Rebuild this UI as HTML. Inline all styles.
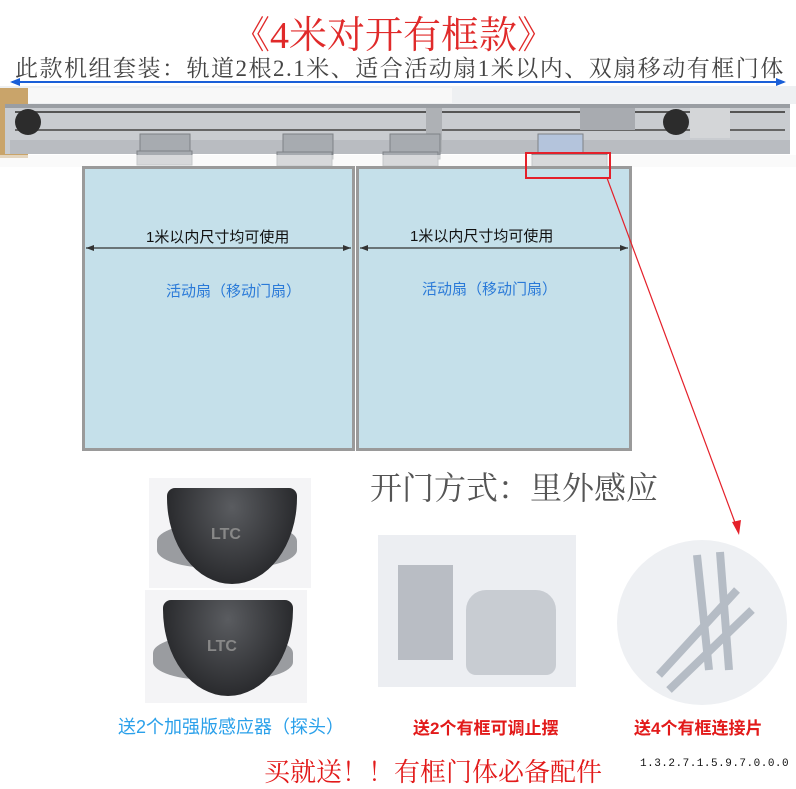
<!DOCTYPE html>
<html><head><meta charset="utf-8"><style>
body{margin:0;width:796px;height:787px;background:#fff;position:relative;overflow:hidden;font-family:"Liberation Sans","Noto Sans CJK SC",sans-serif}
.a{position:absolute;white-space:nowrap}
.panel{position:absolute;background:#c5e0ea;border:3px solid #9a9a9a;box-sizing:border-box}
.sens{position:absolute;background:#f4f4f6}
.dome{position:absolute;background:radial-gradient(ellipse at 50% 20%,#5a5c60,#2a2b2e 70%);border-radius:8px 8px 50% 50%/8px 8px 90% 90%}
.cable{position:absolute;background:#9a9ca0;border-radius:40%}
</style></head><body>
<div class="a" style="left:232px;top:4px;font:38px 'Liberation Serif','Noto Serif CJK SC',serif;color:#e02a2a">《4米对开有框款》</div>
<div class="a" style="left:15px;top:50px;font:23px 'Liberation Serif','Noto Serif CJK SC',serif;color:#444;letter-spacing:1.5px">此款机组套装：轨道2根2.1米、适合活动扇1米以内、双扇移动有框门体</div>
<svg class="a" style="left:0;top:0" width="796" height="787">
<line x1="12" y1="82" x2="784" y2="82" stroke="#1a5fd8" stroke-width="2"/>
<polygon points="10,82 20,78 20,86" fill="#1a5fd8"/><polygon points="786,82 776,78 776,86" fill="#1a5fd8"/>
<rect x="0" y="86" width="796" height="18" fill="#eef0f2"/>
<rect x="0" y="88" width="28" height="70" fill="#c9a46a"/>
<rect x="28" y="88" width="424" height="15" fill="#f8f8f8"/>
<rect x="5" y="104" width="785" height="50" fill="#c9ccd0"/>
<rect x="5" y="104" width="785" height="4" fill="#9a9ea3"/>
<line x1="15" y1="112" x2="785" y2="112" stroke="#555" stroke-width="2"/>
<line x1="15" y1="130" x2="785" y2="130" stroke="#666" stroke-width="2"/>
<rect x="10" y="140" width="780" height="14" fill="#b9bcc1"/>
<circle cx="28" cy="122" r="13" fill="#2c2c2c"/><circle cx="676" cy="122" r="13" fill="#2c2c2c"/>
<rect x="580" y="108" width="55" height="22" fill="#a8abb0"/>
<rect x="690" y="108" width="40" height="30" fill="#d4d6d8"/>
<rect x="426" y="108" width="16" height="44" fill="#aeb1b5"/>
<g fill="#a7abb0" stroke="#7e8286"><rect x="140" y="134" width="50" height="25"/><rect x="137" y="151" width="55" height="14"/>
<rect x="283" y="134" width="50" height="25"/><rect x="277" y="152" width="55" height="14"/>
<rect x="390" y="134" width="50" height="25"/><rect x="383" y="152" width="55" height="14"/>
<rect x="538" y="134" width="45" height="25" fill="#b4c4dc"/><rect x="532" y="154" width="75" height="14"/></g>
<rect x="0" y="155" width="796" height="12" fill="#f6f6f6" opacity=".6"/>
</svg>
<div class="panel" style="left:82px;top:166px;width:273px;height:285px"></div>
<div class="panel" style="left:356px;top:166px;width:276px;height:285px"></div>
<svg class="a" style="left:0;top:0" width="796" height="787">
<rect x="526" y="153" width="84" height="25" fill="none" stroke="#e4202a" stroke-width="2"/>
<g stroke="#333" stroke-width="1.2"><line x1="86" y1="248" x2="351" y2="248"/><line x1="360" y1="248" x2="628" y2="248"/></g>
<g fill="#333"><polygon points="86,248 94,245 94,251"/><polygon points="351,248 343,245 343,251"/><polygon points="360,248 368,245 368,251"/><polygon points="628,248 620,245 620,251"/></g>
<line x1="607" y1="178" x2="737" y2="528" stroke="#e4202a" stroke-width="1.2"/>
<polygon points="739,535 732,522 741,520" fill="#e4202a"/>
</svg>
<div class="a" style="left:146px;top:226px;font-size:15px;color:#111">1米以内尺寸均可使用</div>
<div class="a" style="left:410px;top:225px;font-size:15px;color:#111">1米以内尺寸均可使用</div>
<div class="a" style="left:166px;top:280px;font-size:15px;color:#2a7ad8">活动扇（移动门扇）</div>
<div class="a" style="left:422px;top:278px;font-size:15px;color:#2a7ad8">活动扇（移动门扇）</div>
<div class="a" style="left:370px;top:463px;font:32px 'Liberation Serif','Noto Serif CJK SC',serif;color:#555">开门方式：里外感应</div>
<div class="sens" style="left:149px;top:478px;width:162px;height:110px"><div class="cable" style="left:8px;top:45px;width:140px;height:45px"></div><div class="dome" style="left:18px;top:10px;width:130px;height:96px"></div><div class="a" style="left:62px;top:48px;font:bold 16px 'Liberation Sans';color:#888">LTC</div></div>
<div class="sens" style="left:145px;top:590px;width:162px;height:113px"><div class="cable" style="left:8px;top:45px;width:140px;height:45px"></div><div class="dome" style="left:18px;top:10px;width:130px;height:96px"></div><div class="a" style="left:62px;top:48px;font:bold 16px 'Liberation Sans';color:#888">LTC</div></div>
<div class="a" style="left:378px;top:535px;width:198px;height:152px;background:#eceef2"><div class="a" style="left:20px;top:30px;width:55px;height:95px;background:#b9bdc4"></div><div class="a" style="left:88px;top:55px;width:90px;height:85px;background:#c8ccd2;border-radius:20px 20px 10px 10px"></div></div>
<div class="a" style="left:617px;top:540px;width:170px;height:165px;border-radius:50%;background:#eef0f3"></div>
<svg class="a" style="left:617px;top:540px" width="170" height="165"><g stroke="#b5bcc5" stroke-width="8"><line x1="80" y1="15" x2="92" y2="130"/><line x1="103" y1="12" x2="112" y2="130"/><line x1="120" y1="50" x2="42" y2="135"/><line x1="135" y1="70" x2="52" y2="150"/></g></svg>
<div class="a" style="left:118px;top:713px;font-size:18px;color:#2aa0ea">送2个加强版感应器（探头）</div>
<div class="a" style="left:413px;top:714px;font:bold 17px 'Liberation Sans','Noto Sans CJK SC',sans-serif;color:#e21a1a">送2个有框可调止摆</div>
<div class="a" style="left:634px;top:714px;font:bold 17px 'Liberation Sans','Noto Sans CJK SC',sans-serif;color:#e21a1a">送4个有框连接片</div>
<div class="a" style="left:264px;top:752px;font:26px 'Liberation Serif','Noto Serif CJK SC',serif;color:#e21a1a">买就送！！有框门体必备配件</div>
<div class="a" style="left:640px;top:758px;font:11px 'Liberation Mono',monospace;color:#111;letter-spacing:0.5px">1.3.2.7.1.5.9.7.0.0.0</div>
</body></html>
